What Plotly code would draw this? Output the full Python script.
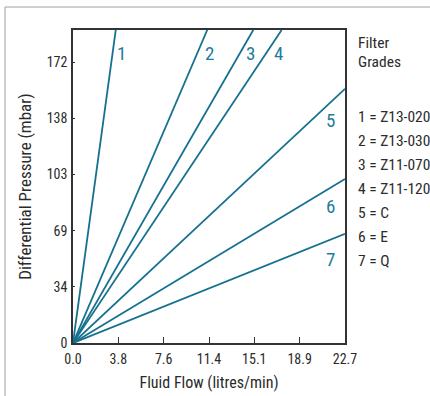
import plotly.graph_objects as go

# Data (flow in litres/min, pressure in mbar)
grades = ["1", "2", "3", "4", "5", "6", "7"]
end_flow = [3.57, 11.21, 15.05, 17.42, 22.71, 22.71, 22.71]
end_pressure = [192.0, 192.0, 192.0, 192.0, 155.9, 100.6, 67.0]

label_x = [4.09, 11.36, 14.86, 17.2, 21.54, 21.54, 21.54]
label_y = [177.6, 177.6, 177.6, 177.6, 136.4, 83.6, 51.0]

legend_title = ["Filter", "Grades"]
legend_items = ["1 = Z13-020", "2 = Z13-030", "3 = Z11-070", "4 = Z11-120",
                "5 = C", "6 = E", "7 = Q"]

x_tickvals = [0, 3.785, 7.57, 11.356, 15.141, 18.927, 22.712]
x_ticktext = ["0.0", "3.8", "7.6", "11.4", "15.1", "18.9", "22.7"]
y_tickvals = [0, 34.47, 68.95, 103.42, 137.9, 172.37]
y_ticktext = ["0", "34", "69", "103", "138", "172"]

X_MAX = 22.712
Y_MAX = 192.0

FONT = "Roboto Condensed, Liberation Sans, sans-serif"
TEAL = "#16708f"
TEXT = "#2b2b2b"

fig = go.Figure()
for g, fx, py in zip(grades, end_flow, end_pressure):
    fig.add_trace(go.Scatter(x=[0, fx], y=[0, py], mode="lines",
                             line=dict(color=TEAL, width=1.8),
                             name=g, showlegend=False, cliponaxis=True,
                             hoverinfo="skip"))

for g, lx, ly in zip(grades, label_x, label_y):
    fig.add_annotation(x=lx, y=ly, text=g, showarrow=False,
                       font=dict(family=FONT, size=19, color="#1f7c9c"),
                       xanchor="center", yanchor="middle")

W, H = 430, 396
L, R, T, B = 73, 85, 30, 53
pw, ph = W - L - R, H - T - B

def px_x(p):
    return (p - L) / pw

def px_y(p):
    return (H - B - p) / ph

legend_y_px = [43, 62]
for txt, yp in zip(legend_title, legend_y_px):
    fig.add_annotation(x=px_x(356), y=px_y(yp), xref="paper", yref="paper",
                       text=txt, showarrow=False, xanchor="left", yanchor="middle",
                       font=dict(family=FONT, size=15.5, color=TEXT))
for i, txt in enumerate(legend_items):
    fig.add_annotation(x=px_x(356), y=px_y(116.5 + i * 24), xref="paper", yref="paper",
                       text=txt, showarrow=False, xanchor="left", yanchor="middle",
                       font=dict(family=FONT, size=15.5, color=TEXT))

# outer light frame
fig.add_shape(type="line", xref="paper", yref="paper",
              x0=px_x(5), x1=px_x(440), y0=px_y(7), y1=px_y(7),
              line=dict(color="#a0a0a0", width=1))
fig.add_shape(type="line", xref="paper", yref="paper",
              x0=px_x(5), x1=px_x(5), y0=px_y(7), y1=px_y(400),
              line=dict(color="#a0a0a0", width=1))

fig.update_layout(
    width=W, height=H,
    margin=dict(l=L, r=R, t=T, b=B, pad=0),
    paper_bgcolor="white", plot_bgcolor="white",
    font=dict(family=FONT, color=TEXT),
    xaxis=dict(range=[0, X_MAX], tickvals=x_tickvals, ticktext=x_ticktext,
               ticks="inside", ticklen=6, tickcolor="#333", tickwidth=1,
               showline=True, linecolor="#333", linewidth=1.5, mirror=True,
               showgrid=False, zeroline=False, ticklabelstandoff=2,
               automargin=False, fixedrange=True,
               tickfont=dict(family=FONT, size=14, color=TEXT),
               title=dict(text="Fluid Flow (litres/min)", standoff=11,
                          font=dict(family=FONT, size=16, color=TEXT))),
    yaxis=dict(range=[0, Y_MAX], tickvals=y_tickvals, ticktext=y_ticktext,
               ticks="inside", ticklen=2, tickcolor="#333", tickwidth=1,
               showline=True, linecolor="#333", linewidth=1.5, mirror=True,
               showgrid=False, zeroline=False, ticklabelstandoff=1,
               automargin=False, fixedrange=True,
               tickfont=dict(family=FONT, size=14, color=TEXT),
               title=dict(text="Differential Pressure (mbar)", standoff=11,
                          font=dict(family=FONT, size=17, color=TEXT))),
)

fig.write_html("out.html", config={"displayModeBar": False},
               post_script="document.body.style.margin='0';document.body.style.overflow='hidden';")
